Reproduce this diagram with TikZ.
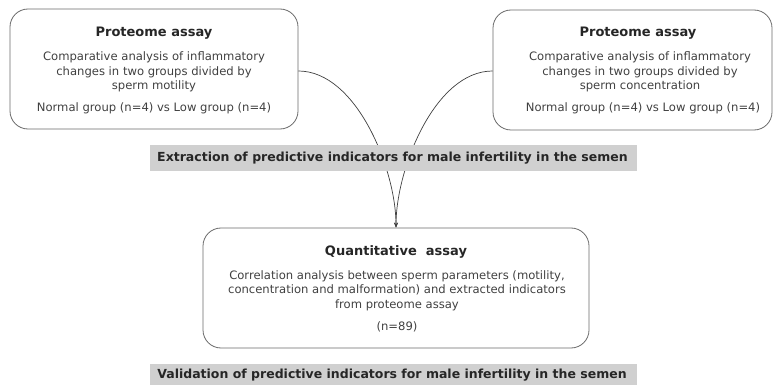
\documentclass[tikz,border=0pt]{standalone}
\usepackage{fontspec}
\setmainfont{DejaVu Sans}
\usetikzlibrary{arrows.meta}
\definecolor{boxline}{HTML}{6A6A6A}
\definecolor{connline}{HTML}{404040}
\definecolor{titletext}{HTML}{262626}
\definecolor{bodytext}{HTML}{404040}
\definecolor{barfill}{HTML}{D0D0D0}
\tikzset{
  panel/.style={draw=boxline, line width=0.8pt, rounded corners=18pt, inner sep=0pt},
  paneltitle/.style={font=\fontsize{13}{15}\selectfont\bfseries, text=titletext, inner sep=0pt},
  panelbody/.style={font=\fontsize{11.6}{14.5}\selectfont, text=bodytext, align=center, inner sep=0pt},
  band/.style={fill=barfill, draw=none, inner sep=0pt},
  bandtext/.style={font=\fontsize{12.5}{15}\selectfont\bfseries, text=titletext, inner sep=0pt},
  conn/.style={draw=connline, line width=0.7pt, -{Stealth[length=5pt,width=4pt]}}
}
\begin{document}
\begin{tikzpicture}[x=1pt, y=-1pt]
\useasboundingbox (0,0) rectangle (774,385);

% panels
\node[panel, minimum width=288pt, minimum height=120pt] (motility) at (154,69) {};
\node[panel, minimum width=279pt, minimum height=120pt] (concentration) at (632.5,70) {};
\node[panel, minimum width=386pt, minimum height=120pt] (quant) at (396,288) {};

% connectors from both proteome panels into the quantitative panel
\draw[conn] ([yshift=-2pt]motility.east) .. controls +(58,0) and +(0,-58) .. (quant.north);
\draw[conn] ([yshift=-1pt]concentration.west) .. controls +(-58,0) and +(0,-58) .. (quant.north);

% left panel text
\node[paneltitle] (motilityTitle) at (154,33) {Proteome assay};
\node[panelbody] (motilityBody) at (154,72) {Comparative analysis of inflammatory\\changes in two groups divided by\\sperm motility};
\node[panelbody] (motilityGroups) at (154,108) {Normal group (n=4) vs Low group (n=4)};

% right panel text
\node[paneltitle] (concTitle) at (638,33) {Proteome assay};
\node[panelbody] (concBody) at (640,72) {Comparative analysis of inflammatory\\changes in two groups divided by\\sperm concentration};
\node[panelbody] (concGroups) at (643,108) {Normal group (n=4) vs Low group (n=4)};

% bottom panel text
\node[paneltitle] (quantTitle) at (396,252) {Quantitative\ \ assay};
\node[panelbody] (quantBody) at (397,290.5) {Correlation analysis between sperm parameters (motility,\\concentration and malformation) and extracted indicators\\from proteome assay};
\node[panelbody] (quantN) at (397,327) {(n=89)};

% grey bands, drawn over the connectors
\node[band, minimum width=487pt, minimum height=26pt] (extractBand) at (393.5,158) {};
\node[bandtext] (extractText) at (392.5,158) {Extraction of predictive indicators for male infertility in the semen};
\node[band, minimum width=487pt, minimum height=21pt] (validBand) at (393.5,374.5) {};
\node[bandtext] (validText) at (392,375) {Validation of predictive indicators for male infertility in the semen};
\end{tikzpicture}
\end{document}
